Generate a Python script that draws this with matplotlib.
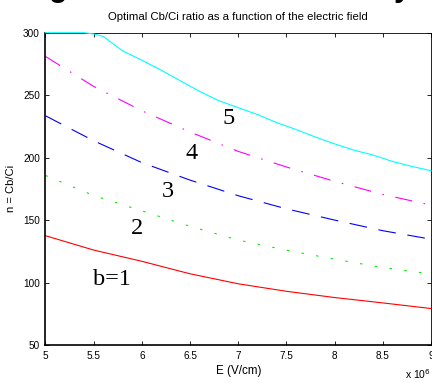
import numpy as np
import matplotlib
matplotlib.use("Agg")
import matplotlib.pyplot as plt

# E field in units of 1e6 V/cm
E = [5.0, 5.5, 6.0, 6.5, 7.0, 7.5, 8.0, 8.5, 9.0]
n_b1 = [137.5, 126.0, 117.0, 107.0, 99.0, 93.0, 88.0, 83.7, 79.2]
n_b2 = [185.7, 169.7, 157.4, 145.0, 134.0, 125.9, 118.7, 112.0, 106.9]
n_b3 = [233.5, 213.5, 196.0, 182.0, 169.5, 159.0, 150.0, 141.5, 134.7]
n_b4 = [281.0, 257.0, 237.5, 220.5, 205.0, 192.5, 181.0, 170.5, 162.0]

E5 = [5.0, 5.4, 5.5, 5.6, 5.8, 6.0, 6.2, 6.4, 6.6, 6.8, 7.0, 7.2, 7.4, 7.6,
      7.8, 8.0, 8.2, 8.4, 8.6, 8.8, 9.0]
n_b5 = [300.0, 300.0, 299.0, 297.0, 285.5, 278.0, 270.0, 261.5, 253.0, 245.5,
        240.0, 234.5, 228.0, 222.5, 216.5, 211.0, 206.0, 202.0, 197.0, 193.0,
        189.5]

labels = ["b=1", "2", "3", "4", "5"]
label_pos = [(5.69, 102.6), (5.95, 143.3), (6.27, 172.6), (6.52, 203.4), (6.90, 231.6)]

plt.rcParams['font.family'] = ['Liberation Sans', 'DejaVu Sans']

fig = plt.figure(figsize=(4.32, 3.83), dpi=100)
ax = fig.add_axes([0.1053, 0.0992, 0.8924, 0.8154])

lw = 0.8
ax.plot(E, n_b1, color='red', lw=lw)
ax.plot(E, n_b2, color='#00ee00', lw=lw, dashes=(2.2, 11.2))
ax.plot(E, n_b3, color='blue', lw=lw, dashes=(16, 10.5))
ax.plot(E, n_b4, color='magenta', lw=lw, dashes=(15.5, 10.5, 1.4, 10.5))
ax.plot(E5, n_b5, color='cyan', lw=lw, clip_on=False, zorder=3)

for txt, (x, y) in zip(labels, label_pos):
    ax.text(x, y, txt, fontsize=17.5, family=['Liberation Serif', 'DejaVu Serif'],
            ha='center', va='center')

ax.set_xlim(5, 9)
ax.set_ylim(50, 300)
ax.set_xticks([5, 5.5, 6, 6.5, 7, 7.5, 8, 8.5, 9])
ax.set_xticklabels(["5", "5.5", "6", "6.5", "7", "7.5", "8", "8.5", "9"])
ax.set_yticks([50, 100, 150, 200, 250, 300])
ax.tick_params(direction='in', top=True, right=True, labelsize=7.2, length=3, width=0.6, pad=4)
for s in ax.spines.values():
    s.set_linewidth(0.6)
ax.spines['left'].set_linewidth(1.2)
ax.spines['bottom'].set_linewidth(1.2)

ax.set_title("Optimal Cb/Ci ratio as a function of the electric field", fontsize=8.2, pad=9)
ax.set_xlabel("E (V/cm)", fontsize=8.4, labelpad=3)
ax.set_ylabel("n = Cb/Ci", fontsize=8, labelpad=5)
fig.text(0.937, 0.004, r"x 10$^6$", fontsize=7.5, ha='left', va='bottom')

# cut-off slide heading above the chart
fig.text(0.135, 1.011, "g", fontsize=22, fontweight='bold', ha='center', va='baseline')
fig.text(0.932, 1.011, "y", fontsize=22, fontweight='bold', ha='center', va='baseline')

fig.savefig("out.png", dpi=100)
